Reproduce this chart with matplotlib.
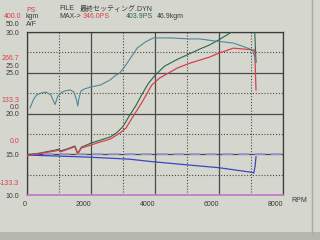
import matplotlib
matplotlib.use('Agg')
import matplotlib.pyplot as plt
from matplotlib.ticker import MultipleLocator

plt.rcParams['font.family'] = ['Liberation Sans', 'Noto Sans CJK JP']

# Dyno run data
# green PS curve (corrected)
green_rpm = [0, 400, 900, 1000, 1050, 1300, 1500, 1580, 1620, 1700, 2000, 2300, 2600, 2800, 3000,
             3200, 3400, 3600, 3800, 4000, 4300, 4700, 5000, 5400, 5700, 6000, 6400, 6800, 7100, 7160]
green_ps = [-46, -40, -30, -27, -33, -25, -17, -38, -36, -21, -8, 2, 12, 25, 45,
            80, 112, 150, 185, 210, 240, 262, 276, 295, 308, 325, 350, 380, 400, 253]

# red PS curve
red_rpm = [0, 900, 1000, 1050, 1500, 1580, 1620, 1700, 2000, 2300, 2600, 2900, 3100, 3300,
           3600, 3900, 4150, 4700, 5100, 5700, 6000, 6450, 6800, 7120, 7160]
red_ps = [-48, -33, -30, -36, -20, -41, -38, -24, -14, -4, 5, 24, 41, 75,
          124, 179, 202, 234, 250, 269, 282, 298, 295, 292, 163]

# torque kgm curve
trq_rpm = [100, 200, 300, 450, 600, 750, 880, 970, 1100, 1200, 1350, 1470, 1550, 1590, 1630,
           1690, 1800, 2000, 2300, 2600, 2750, 2900, 3050, 3200, 3450, 3700, 3950, 4500, 5100,
           5400, 5900, 6450, 6800, 7050, 7130, 7160]
trq_kgm = [-0.6, 4.3, 7.3, 8.5, 9.1, 7.3, 1.5, 6.7, 9.1, 9.8, 10.4, 9.1, 4.3, 0.6, 5.5,
           9.8, 11.0, 12.2, 13.4, 16.5, 18.9, 20.7, 24.4, 28.7, 36.0, 39.6, 42.1, 42.1, 41.5,
           41.5, 40.2, 39.0, 36.6, 34.8, 30.0, 27.4]

# air/fuel ratio
af_rpm = [0, 800, 1900, 3200, 3900, 5000, 6000, 7000, 7090, 7130, 7160]
af_val = [14.9, 14.8, 14.65, 14.4, 14.1, 13.7, 13.35, 12.8, 12.7, 13.5, 14.7]
af_target = 15.0

ps_ticks = [266.7, 133.3, 0.0, -133.3]
kgm_ticks = [25.0, 0.0]
af_ticks = [10.0, 15.0, 20.0, 25.0, 30.0]
rpm_ticks = [0, 2000, 4000, 6000, 8000]

bg = '#d5d7cf'
dark = '#3a3a3a'
red = '#d8404c'
green = '#2f6448'
fs = 5

fig = plt.figure(figsize=(3.2, 2.4), dpi=100, facecolor=bg)
ax = fig.add_axes([0.084, 0.1875, 0.8, 0.679])
ax.set_facecolor(bg)
ax.set_xlim(0, 8000)
ax.set_ylim(10, 30)

# grid: solid on major, dotted on minor
ax.xaxis.set_major_locator(MultipleLocator(2000))
ax.xaxis.set_minor_locator(MultipleLocator(1000))
ax.yaxis.set_major_locator(MultipleLocator(5))
ax.yaxis.set_minor_locator(MultipleLocator(2.5))
ax.grid(which='major', color='#4a4a4a', lw=0.9, ls='-')
ax.grid(which='minor', color='#4a4a4a', lw=0.8, ls=(0, (1, 1.6)))
ax.set_axisbelow(True)
ax.tick_params(which='both', length=0)
ax.tick_params(axis='y', pad=5.5, labelsize=fs, labelcolor=dark)
ax.tick_params(axis='x', pad=4, labelsize=fs, labelcolor=dark)
ax.set_yticks(af_ticks)
ax.set_yticklabels(['%.1f' % v for v in af_ticks])
ax.set_xticks(rpm_ticks)
ax.set_xticklabels([str(v) for v in rpm_ticks], ha='right')
for s in ['left', 'top', 'right']:
    ax.spines[s].set_color(dark)
    ax.spines[s].set_linewidth(0.9)
ax.spines['bottom'].set_color('#c47ec8')
ax.spines['bottom'].set_linewidth(1.3)

ax.axhline(af_target, color='#9898d8', lw=1.3, ls=(0, (6, 3)), zorder=2)
ax.plot(af_rpm, af_val, color='#3a46c0', lw=0.9, zorder=3)

# PS axis
ax_ps = ax.twinx()
ax_ps.set_ylim(-175, 350)
ax_ps.plot(green_rpm, green_ps, color=green, lw=0.8)
ax_ps.plot(red_rpm, red_ps, color=red, lw=0.9)
ax_ps.set_yticks(ps_ticks)
ax_ps.set_yticklabels(['%.1f' % v for v in ps_ticks])
ax_ps.tick_params(axis='y', length=0, left=False, right=False, labelleft=True, labelright=False,
                  pad=5.5, labelsize=fs, labelcolor=red)
for s in ax_ps.spines.values():
    s.set_visible(False)

# kgm axis
ax_kg = ax.twinx()
ax_kg.set_ylim(-53.7, 45.7)
ax_kg.plot(trq_rpm, trq_kgm, color='#4f8796', lw=0.8)
ax_kg.set_yticks(kgm_ticks)
ax_kg.set_yticklabels(['%.1f' % v for v in kgm_ticks])
ax_kg.tick_params(axis='y', length=0, left=False, right=False, labelleft=True, labelright=False,
                  pad=5.5, labelsize=fs, labelcolor='#5a3a3a')
for s in ax_kg.spines.values():
    s.set_visible(False)

# header labels
fig.text(26 / 320, 1 - 10 / 240, 'PS', color=red, fontsize=fs, va='center')
fig.text(21 / 320, 1 - 17 / 240, '400.0', color=red, fontsize=fs, va='center', ha='right')
fig.text(26 / 320, 1 - 17 / 240, 'kgm', color=dark, fontsize=fs, va='center')
fig.text(19 / 320, 1 - 24.5 / 240, '50.0', color=dark, fontsize=fs, va='center', ha='right')
fig.text(26 / 320, 1 - 24.5 / 240, 'A/F', color=dark, fontsize=fs, va='center')
fig.text(59 / 320, 1 - 9 / 240, 'FILE', color=dark, fontsize=fs, va='center')
fig.text(80 / 320, 1 - 9 / 240, '最終セッティング.DYN', color=dark, fontsize=fs, va='center')
fig.text(59 / 320, 1 - 17 / 240, 'MAX->', color=dark, fontsize=fs, va='center')
fig.text(83 / 320, 1 - 17 / 240, '346.0PS', color=red, fontsize=fs, va='center')
fig.text(126 / 320, 1 - 17 / 240, '403.9PS', color=green, fontsize=fs, va='center')
fig.text(157 / 320, 1 - 17 / 240, '46.9kgm', color=dark, fontsize=fs, va='center')
fig.text(291 / 320, 1 - 201 / 240, 'RPM', color=dark, fontsize=fs, va='center')

# screen frame edge
fig.add_artist(plt.Line2D([312 / 320, 312 / 320], [0.03, 1], color='#a9aaa2', lw=1.0))
fig.add_artist(plt.Rectangle((0, 0), 1, 8 / 240, color='#b5b6ae', lw=0))

plt.savefig('out.png', dpi=100, facecolor=bg)
